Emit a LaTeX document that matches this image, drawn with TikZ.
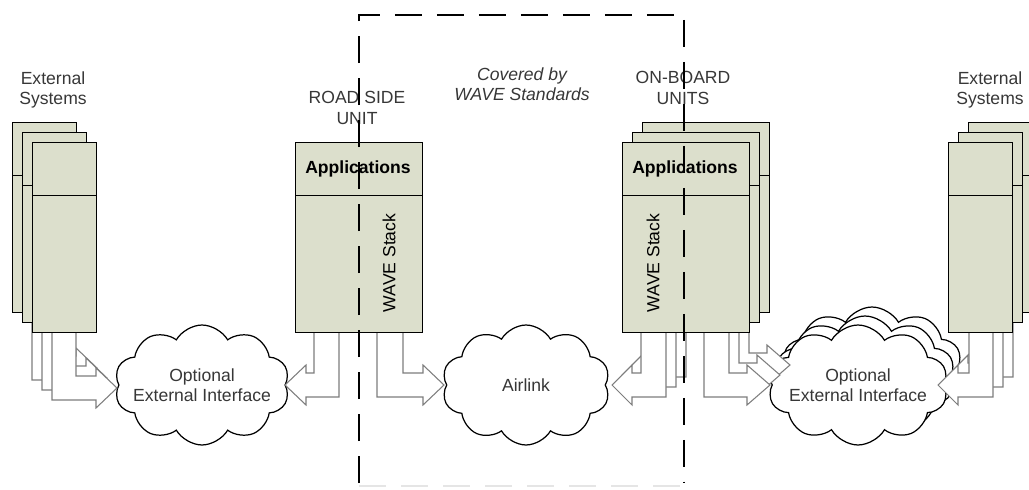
\documentclass[tikz,border=0pt]{standalone}
\usepackage{fontspec}
\setmainfont{Liberation Sans}
\usetikzlibrary{shapes.symbols}

\definecolor{boxfill}{RGB}{220,223,204}
\definecolor{labelgray}{RGB}{55,55,55}
\definecolor{arrowgray}{RGB}{125,125,125}

% L-shaped block arrow: outer x, inner x, start y, head base x, tip x, middle y
\newcommand{\bentarrow}[6]{%
  \draw[bentline] (#1,#3) -- (#1,#6+12) -- (#4,#6+12) -- (#4,#6+20) -- (#5,#6)
    -- (#4,#6-20) -- (#4,#6-12) -- (#2,#6-12) -- (#2,#3) -- cycle;}

\begin{document}
\begin{tikzpicture}[x=0.02cm,y=-0.02cm,every node/.style={font=\fontsize{10}{11.5}\selectfont}]
\tikzstyle{unitbox}=[draw,fill=boxfill,line width=0.8pt,minimum width=2.54cm,minimum height=3.8cm,
  anchor=north west,inner sep=0pt,
  path picture={\draw[line width=0.8pt] ([yshift=-1.06cm]path picture bounding box.north west)
    -- ([yshift=-1.06cm]path picture bounding box.north east);}]
\tikzstyle{extbox}=[unitbox,minimum width=1.28cm]
\tikzstyle{bentline}=[draw=arrowgray,fill=white,line width=0.6pt,line join=miter]
\tikzstyle{cloudnode}=[cloud,draw,fill=white,line width=0.7pt,cloud puffs=10,cloud puff arc=120,
  cloud ignores aspect,minimum width=3.5cm,minimum height=2.4cm,inner sep=0pt]
\tikzstyle{caption}=[align=center,text=labelgray]
\tikzstyle{boundary}=[line width=1.2pt,dash pattern=on 0.54cm off 0.3cm]

\useasboundingbox (0,0) rectangle (1029,490);

% clouds
\node[cloudnode] (oeil) at (202,385) {};
\node[cloudnode,minimum width=3.36cm] (airlink) at (526,385) {};
\node[cloudnode,minimum width=3.6cm] (oeir3) at (872,367) {};
\node[cloudnode,minimum width=3.6cm] (oeir2) at (865,376) {};
\node[cloudnode,minimum width=3.6cm] (oeir1) at (858,385) {};
\node[caption] (oeiltext) at (oeil.center) {Optional\\External Interface};
\node[caption] (airlinktext) at (airlink.center) {Airlink};
\node[caption] (oeirtext) at (oeir1.center) {Optional\\External Interface};

% external systems, left
\bentarrow{32}{56}{311}{76}{97}{368}
\node[extbox] (exl3) at (12,122) {};
\bentarrow{42}{66}{321}{86}{107}{378}
\node[extbox] (exl2) at (22,132) {};
\bentarrow{52}{76}{332}{96}{117}{388}
\node[extbox] (exl1) at (32,142) {};

% road side unit
\bentarrow{339}{314}{332}{306}{285}{385}
\bentarrow{377}{403}{332}{423}{444}{385}
\node[unitbox] (rsu) at (295,142) {};

% on-board units
\bentarrow{686}{661}{311}{652}{632}{365}
\bentarrow{724}{749}{311}{767}{790}{365}
\node[unitbox] (obu3) at (642,122) {};
\bentarrow{676}{651}{321}{642}{622}{375}
\bentarrow{714}{739}{321}{757}{780}{375}
\node[unitbox] (obu2) at (632,132) {};
\bentarrow{666}{641}{332}{632}{612}{385}
\bentarrow{704}{729}{332}{747}{770}{385}
\node[unitbox] (obu1) at (622,142) {};

% external systems, right
\bentarrow{1013}{989}{311}{978}{958}{365}
\node[extbox] (exr3) at (968,122) {};
\bentarrow{1003}{979}{321}{968}{948}{375}
\node[extbox] (exr2) at (958,132) {};
\bentarrow{993}{969}{332}{958}{938}{385}
\node[extbox] (exr1) at (948,142) {};

% texts
\node[font=\fontsize{10}{11.5}\selectfont\bfseries] (rsuapp) at (358,169) {Applications};
\node[rotate=90] (rsustack) at (389,263) {WAVE Stack};
\node[font=\fontsize{10}{11.5}\selectfont\bfseries] (obuapp) at (685,169) {Applications};
\node[rotate=90] (obustack) at (653,263) {WAVE Stack};

\node[caption] (extl) at (53,90) {External\\Systems};
\node[caption] (extr) at (990,90) {External\\Systems};
\node[caption] (rsucap) at (357,108) {ROAD SIDE\\UNIT};
\node[caption] (obucap) at (683,88) {ON-BOARD\\UNITS};
\node[caption,font=\fontsize{10}{11.5}\selectfont\itshape] (wave) at (522,84) {Covered by\\WAVE Standards};

% boundary of the WAVE standards
\draw[boundary] (359,483) -- (359,15) -- (684,15) -- (684,483);
\draw[boundary,black!10,line width=0.8pt] (359,486) -- (684,486);
\end{tikzpicture}
\end{document}
